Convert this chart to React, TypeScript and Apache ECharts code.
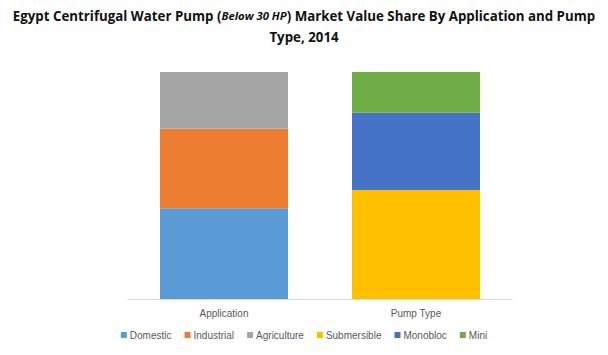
import React, { useEffect, useRef } from "react";
import * as echarts from "echarts";

const categories = ["Application", "Pump Type"];
const seriesNames = ["Domestic", "Industrial", "Agriculture", "Submersible", "Monobloc", "Mini"];
const domestic = [40, null];
const industrial = [35, null];
const agriculture = [25, null];
const submersible = [null, 48];
const monobloc = [null, 34];
const mini = [null, 18];
const colors = ["#5b9bd5", "#ed7d31", "#a5a5a5", "#ffc000", "#4472c4", "#70ad47"];

export default function App() {
  const ref = useRef<HTMLDivElement>(null);
  useEffect(() => {
    if (!ref.current) return;
    const chart = echarts.init(ref.current, undefined, { renderer: "svg" });
    const values = [domestic, industrial, agriculture, submersible, monobloc, mini];
    chart.setOption({
      animation: false,
      title: {
        left: "center",
        top: 0,
        text:
          "{b|Egypt Centrifugal Water Pump (}{i|Below 30 HP}{b|) Market Value Share By Application and Pump}\n{b|Type, 2014}",
        textStyle: {
          rich: {
            b: { fontFamily: "Open Sans", fontWeight: "bold", fontSize: 13.3, color: "#111", lineHeight: 21 },
            i: { fontFamily: "Open Sans", fontStyle: "italic", fontSize: 11.3, color: "#111", lineHeight: 21 },
          },
        },
      },
      legend: {
        bottom: 10,
        left: "center",
        itemWidth: 6,
        itemHeight: 6,
        itemGap: 13,
        icon: "rect",
        textStyle: { fontFamily: "Liberation Sans", fontSize: 10, color: "#595959", padding: [0, 0, 0, -2] },
        data: seriesNames,
      },
      grid: { left: 128, right: 96, top: 72, bottom: 56 },
      xAxis: {
        type: "category",
        data: categories,
        axisLine: { lineStyle: { color: "#d9d9d9" } },
        axisTick: { show: false },
        axisLabel: { color: "#595959", fontSize: 10, fontFamily: "Liberation Sans", margin: 9 },
      },
      yAxis: {
        type: "value",
        min: 0,
        max: 100,
        show: false,
        splitLine: { show: false },
      },
      series: seriesNames.map((name, i) => ({
        name,
        type: "bar",
        stack: "total",
        barWidth: 128,
        itemStyle: { color: colors[i] },
        data: values[i].map((v) => (v === null ? "-" : v)),
      })),
    });
    return () => chart.dispose();
  }, []);
  return <div ref={ref} style={{ width: 608, height: 355, margin: -8 }} />;
}
